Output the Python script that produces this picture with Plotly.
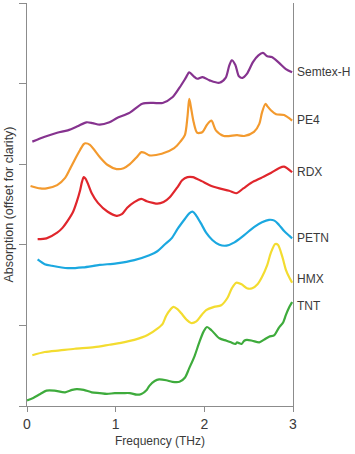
import plotly.graph_objects as go

FONT = "Liberation Sans Narrow, Arial Narrow, Liberation Sans, Arial, sans-serif"

# Frequencies (THz) and absorption (offset for clarity) per explosive
semtex_x = [0.06,0.20,0.34,0.46,0.57,0.67,0.74,0.82,0.93,1.01,1.16,1.30,1.42,1.53,1.64,1.72,1.79,1.83,1.88,1.92,1.98,2.06,2.17,2.24,2.28,2.31,2.35,2.39,2.43,2.48,2.55,2.61,2.66,2.71,2.76,2.84,2.92,2.99]
semtex_y = [3.28,3.34,3.39,3.42,3.47,3.52,3.51,3.49,3.52,3.57,3.64,3.75,3.76,3.76,3.83,3.95,4.07,4.14,4.09,4.06,4.08,4.04,4.01,4.07,4.22,4.29,4.23,4.09,4.07,4.12,4.27,4.35,4.38,4.34,4.33,4.26,4.18,4.14]

pe4_x = [0.04,0.15,0.22,0.34,0.43,0.48,0.55,0.60,0.64,0.66,0.71,0.82,0.91,1.01,1.09,1.16,1.24,1.29,1.33,1.38,1.52,1.66,1.73,1.78,1.81,1.83,1.85,1.88,1.92,1.98,2.03,2.08,2.13,2.22,2.37,2.45,2.56,2.62,2.65,2.69,2.71,2.75,2.81,2.90,2.99]
pe4_y = [2.73,2.70,2.70,2.74,2.83,2.93,3.08,3.18,3.25,3.26,3.24,3.09,2.99,2.94,2.95,3.00,3.09,3.15,3.14,3.11,3.13,3.20,3.28,3.36,3.59,3.81,3.70,3.52,3.39,3.40,3.49,3.54,3.42,3.35,3.36,3.35,3.40,3.50,3.64,3.75,3.72,3.67,3.62,3.61,3.54]

rdx_x = [0.12,0.22,0.34,0.40,0.46,0.52,0.56,0.60,0.62,0.64,0.66,0.69,0.73,0.80,0.91,1.01,1.07,1.13,1.21,1.29,1.35,1.42,1.47,1.54,1.61,1.70,1.75,1.81,1.87,1.97,2.06,2.17,2.28,2.36,2.44,2.53,2.64,2.75,2.84,2.90,2.99]
rdx_y = [2.07,2.08,2.15,2.21,2.30,2.41,2.53,2.68,2.78,2.84,2.82,2.75,2.64,2.52,2.41,2.36,2.38,2.46,2.53,2.57,2.54,2.52,2.51,2.53,2.59,2.72,2.80,2.84,2.84,2.79,2.74,2.70,2.67,2.64,2.70,2.77,2.83,2.89,2.95,2.97,2.90]

petn_x = [0.12,0.20,0.28,0.46,0.63,0.82,1.01,1.21,1.38,1.47,1.55,1.63,1.70,1.78,1.83,1.87,1.91,1.97,2.02,2.09,2.17,2.25,2.34,2.45,2.56,2.65,2.73,2.79,2.84,2.90,2.96,2.99]
petn_y = [1.82,1.76,1.74,1.71,1.72,1.75,1.77,1.81,1.87,1.92,2.00,2.08,2.20,2.32,2.39,2.41,2.36,2.25,2.15,2.06,2.00,1.99,2.03,2.12,2.22,2.28,2.31,2.30,2.25,2.17,2.11,2.08]

hmx_x = [0.06,0.20,0.37,0.54,0.76,0.93,1.04,1.21,1.36,1.47,1.53,1.57,1.62,1.65,1.70,1.74,1.80,1.85,1.91,1.97,2.02,2.11,2.19,2.26,2.31,2.36,2.42,2.48,2.54,2.60,2.65,2.71,2.75,2.80,2.83,2.88,2.92,2.96,2.99]
hmx_y = [0.63,0.67,0.69,0.71,0.73,0.76,0.78,0.82,0.88,0.96,1.02,1.12,1.20,1.23,1.20,1.15,1.07,1.03,1.05,1.13,1.19,1.23,1.25,1.34,1.46,1.53,1.51,1.46,1.46,1.51,1.60,1.75,1.90,2.01,2.00,1.85,1.69,1.59,1.53]

tnt_x = [0.00,0.07,0.15,0.22,0.31,0.43,0.51,0.56,0.64,0.73,0.82,0.90,0.99,1.08,1.16,1.24,1.29,1.35,1.38,1.44,1.49,1.57,1.64,1.72,1.78,1.83,1.89,1.94,1.99,2.03,2.08,2.17,2.25,2.30,2.35,2.37,2.39,2.42,2.45,2.48,2.54,2.62,2.67,2.73,2.79,2.84,2.89,2.92,2.96,2.99]
tnt_y = [0.07,0.10,0.15,0.19,0.19,0.17,0.20,0.21,0.20,0.17,0.16,0.15,0.16,0.16,0.16,0.14,0.15,0.20,0.25,0.31,0.33,0.32,0.30,0.30,0.35,0.47,0.62,0.78,0.92,0.98,0.94,0.84,0.81,0.79,0.77,0.79,0.78,0.77,0.81,0.82,0.81,0.79,0.82,0.86,0.88,0.97,1.04,1.13,1.23,1.29]

names = ["Semtex-H", "PE4", "RDX", "PETN", "HMX", "TNT"]
label_y = [4.14, 3.55, 2.90, 2.08, 1.58, 1.24]
colors = ["#86338f", "#f39a2e", "#e0262c", "#1ba8e0", "#f3dc30", "#3eab3c"]
series = [(semtex_x, semtex_y), (pe4_x, pe4_y), (rdx_x, rdx_y),
          (petn_x, petn_y), (hmx_x, hmx_y), (tnt_x, tnt_y)]

x_ticks = [0, 1, 2, 3]
y_ticks = [0, 1, 2, 3, 4, 5]

TXT = "#3a3a3a"

fig = go.Figure()
for name, (xs, ys), c in zip(names, series, colors):
    fig.add_trace(go.Scatter(x=xs, y=ys, mode="lines", name=name,
                             line=dict(color=c, width=2.2, shape="spline", smoothing=0.8),
                             showlegend=False, hoverinfo="skip"))

for name, ly in zip(names, label_y):
    fig.add_annotation(x=1.0, xref="paper", y=ly, yref="y", text=name,
                       showarrow=False, xanchor="left", yanchor="middle", xshift=2,
                       font=dict(family=FONT, size=12, color=TXT))

fig.update_layout(
    width=355, height=454,
    margin=dict(l=27, r=62, t=3, b=48),
    paper_bgcolor="white", plot_bgcolor="white",
    font=dict(family=FONT, size=12, color=TXT),
)
fig.update_xaxes(range=[0, 3], tickvals=x_ticks, ticktext=[str(v) for v in x_ticks],
                 showline=True, linecolor="#8c8c8c", linewidth=1, showgrid=False, zeroline=False,
                 ticks="outside", ticklen=5, tickcolor="#8c8c8c", automargin=False,
                 tickfont=dict(family=FONT, size=14, color=TXT),
                 title=dict(text="Frequency (THz)", font=dict(family=FONT, size=12, color=TXT), standoff=5))
fig.update_yaxes(range=[0, 5], tickvals=y_ticks, showticklabels=False,
                 showline=True, mirror=True, linecolor="#8c8c8c", linewidth=1, showgrid=False, zeroline=False,
                 ticks="outside", ticklen=7, tickcolor="#8c8c8c", automargin=False,
                 title=dict(text="Absorption (offset for clarity)", font=dict(family=FONT, size=12.5, color=TXT), standoff=2))

fig.write_html("out.html", config={"displayModeBar": False},
               post_script="document.body.style.margin='0';document.body.style.padding='0';")
